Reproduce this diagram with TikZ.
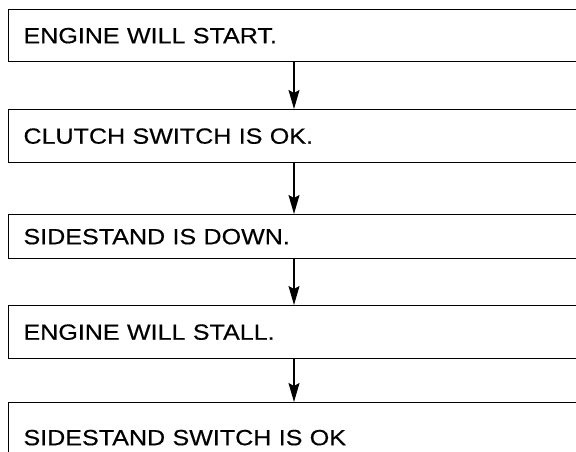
\documentclass[tikz,border=0pt]{standalone}
\usepackage{fontspec}
\setmainfont{Liberation Sans}[FakeStretch=1.14,FakeBold=0.4]
\usepackage{tikz}
\usetikzlibrary{arrows.meta,positioning}

\begin{document}
\begin{tikzpicture}[x=1pt,y=1pt,
		box/.style={draw,line width=1.3pt,anchor=north,inner xsep=15pt,inner ysep=0pt,
			text width=541pt,align=left,font=\fontsize{22}{26}\selectfont},
		link/.style={-{Stealth[length=19pt,width=11pt,inset=3pt]},line width=1.3pt}]
		\clip (0,0) rectangle (576,452);
		\fill[white] (0,0) rectangle (576,452);
		% the five checks, top to bottom
		\node[box,minimum height=52pt] (start) at (294,443) {ENGINE WILL START.};
		\node[box,minimum height=53pt] (clutch) at (294,343) {CLUTCH SWITCH IS OK.};
		\node[box,minimum height=44pt] (down) at (294,238) {SIDESTAND IS DOWN.};
		\node[box,minimum height=53pt] (stall) at (294,147) {ENGINE WILL STALL.};
		\node[box,minimum height=70pt] (switch) at (294,50) {SIDESTAND SWITCH IS OK};
		% arrows
		\draw[link] (start.south) -- (clutch.north);
		\draw[link] (clutch.south) -- (down.north);
		\draw[link] (down.south) -- (stall.north);
		\draw[link] (stall.south) -- (switch.north);
	\end{tikzpicture}
\end{document}
